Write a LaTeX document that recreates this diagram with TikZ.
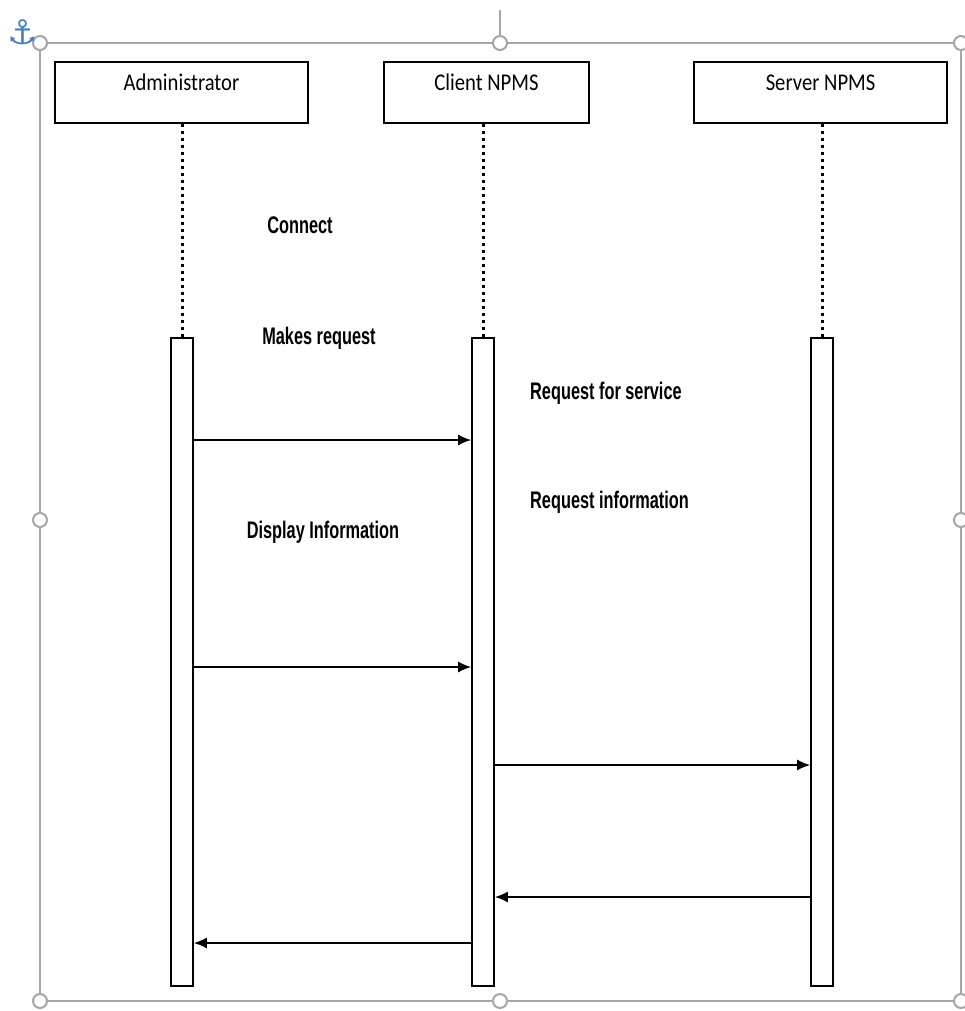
\documentclass[tikz,border=0pt]{standalone}
\usepackage{fontspec}
\setmainfont{Liberation Sans}
\newfontfamily\boxfont[FakeStretch=0.86]{Carlito}
\newfontfamily\msgfont[FakeStretch=0.68]{Liberation Sans}
\newfontfamily\symfont{DejaVu Sans}
\usetikzlibrary{positioning}
\usetikzlibrary{arrows.meta}

\definecolor{framegray}{HTML}{A6A6A6}
\definecolor{anchorblue}{HTML}{4A7EBB}

\tikzset{
  actor/.style={draw, line width=1.6pt, minimum height=61pt, inner sep=0pt,
    font=\boxfont\fontsize{24}{28}\selectfont, text height=16pt, text depth=19pt},
  bar/.style={draw, fill=white, line width=1.6pt, minimum width=22pt, inner sep=0pt},
  lifeline/.style={line width=3pt, dash pattern=on 3.5pt off 3.5pt},
  msg/.style={line width=1.8pt, -{Latex[length=13pt,width=11pt]}},
  note/.style={font=\msgfont\bfseries\fontsize{24}{28}\selectfont, inner sep=0pt},
  frame/.style={draw=framegray, line width=2pt},
  handle/.style={draw=framegray, fill=white, line width=2pt}
}

\begin{document}
\begin{tikzpicture}[x=1pt, y=-1pt]
  \useasboundingbox (0,0) rectangle (964,1011);

  % Selection frame
  \draw[frame] (40,43) rectangle (961,1001);
  \draw[frame] (500,10) -- (500,36);
  \foreach \hx/\hy in {40/43, 500/43, 961/43, 40/520, 961/520, 40/1001, 500/1001, 961/1001}
    \filldraw[handle] (\hx,\hy) circle (7pt);
  \node[text=anchorblue, font=\symfont\bfseries\fontsize{34}{34}\selectfont, inner sep=0pt] (anchor) at (23,32) {⚓};

  % Objects
  \node[actor, minimum width=253pt] (admin) at (181.5,92.5) {Administrator};
  \node[actor, minimum width=205pt] (client) at (486.5,92.5) {Client NPMS};
  \node[actor, minimum width=253pt] (server) at (820.5,92.5) {Server NPMS};

  % Activation bars
  \node[bar, minimum height=648pt] (adminbar) at (182,662) {};
  \node[bar, minimum height=648pt] (clientbar) at (483,662) {};
  \node[bar, minimum height=648pt] (serverbar) at (822,662) {};

  % Lifelines
  \draw[lifeline] (adminbar.north |- admin.south) -- (adminbar.north);
  \draw[lifeline] (clientbar.north |- client.south) -- (clientbar.north);
  \draw[lifeline] (serverbar.north |- server.south) -- (serverbar.north);

  % Message levels
  \coordinate (m1) at (0,440);
  \coordinate (m2) at (0,667);
  \coordinate (m3) at (0,765);
  \coordinate (m4) at (0,897);
  \coordinate (m5) at (0,943);

  % Messages
  \draw[msg] (adminbar.east |- m1) -- (clientbar.west |- m1);
  \draw[msg] (adminbar.east |- m2) -- (clientbar.west |- m2);
  \draw[msg] (clientbar.east |- m3) -- (serverbar.west |- m3);
  \draw[msg] (serverbar.west |- m4) -- (clientbar.east |- m4);
  \draw[msg] (clientbar.west |- m5) -- (adminbar.east |- m5);

  % Labels
  \node[note, anchor=base] (connect) at (300,233) {Connect};
  \node[note, anchor=base] (makesreq) at (319,344) {Makes request};
  \node[note, anchor=base] (display) at (323,538) {Display Information};
  \node[note, anchor=base west] (reqservice) at (530,399) {Request for service};
  \node[note, anchor=base west] (reqinfo) at (530,508) {Request information};
\end{tikzpicture}
\end{document}
